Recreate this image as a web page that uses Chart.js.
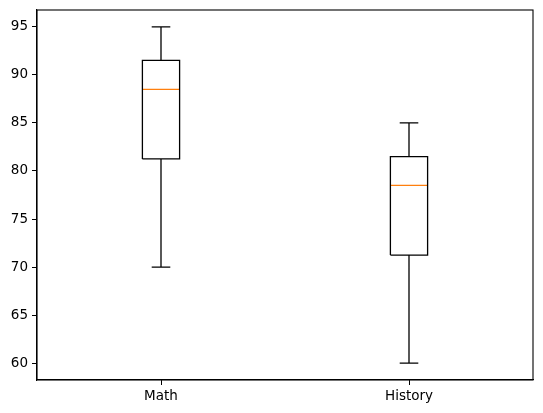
<!DOCTYPE html>
<html>
<head>
<meta charset="utf-8">
<script src="https://cdn.jsdelivr.net/npm/chart.js@4"></script>
<style>
  html, body { margin: 0; padding: 0; background: #fff; }
  #wrap { width: 543px; height: 413px; }
</style>
</head>
<body>
<div id="wrap"><canvas id="result" width="543" height="413"></canvas></div>
<script>
const subjects = ['Math', 'History'];
const lowWhisker = [70, 60];
const q1 = [81.25, 71.25];
const medians = [88.5, 78.5];
const q3 = [91.5, 81.5];
const highWhisker = [95, 85];
const yTicks = [60, 65, 70, 75, 80, 85, 90, 95];

const boxWidth = 0.15;
const capWidth = boxWidth / 2;

// build line segments from the stats, with null points to break the path
let boxPts = [], whiskerPts = [], medianPts = [];
subjects.forEach((s, i) => {
    let x = i + 1;
    let h = boxWidth / 2, c = capWidth / 2;
    boxPts.push(
        {x: x - h, y: q1[i]}, {x: x + h, y: q1[i]}, {x: x + h, y: q3[i]},
        {x: x - h, y: q3[i]}, {x: x - h, y: q1[i]}, {x: x, y: null}
    );
    whiskerPts.push(
        {x: x, y: q1[i]}, {x: x, y: lowWhisker[i]}, {x: x, y: null},
        {x: x, y: q3[i]}, {x: x, y: highWhisker[i]}, {x: x, y: null},
        {x: x - c, y: lowWhisker[i]}, {x: x + c, y: lowWhisker[i]}, {x: x, y: null},
        {x: x - c, y: highWhisker[i]}, {x: x + c, y: highWhisker[i]}, {x: x, y: null}
    );
    medianPts.push({x: x - h, y: medians[i]}, {x: x + h, y: medians[i]}, {x: x, y: null});
});

function seg(data, color) {
    return {
        data,
        borderColor: color,
        borderWidth: 1.3,
        pointRadius: 0,
        tension: 0,
        fill: false,
        spanGaps: false
    };
}

const frame = {
    id: 'frame',
    afterDraw(chart) {
        let a = chart.chartArea, ctx = chart.ctx;
        ctx.save();
        ctx.strokeStyle = '#000';
        ctx.lineWidth = 1.1;
        ctx.strokeRect(a.left, a.top, a.right - a.left, a.bottom - a.top);
        ctx.restore();
    }
};

const font = { family: 'DejaVu Sans', size: 13.5 };

new Chart(document.getElementById('result').getContext('2d'), {
    type: 'line',
    data: {
        datasets: [
            seg(whiskerPts, '#000'),
            seg(boxPts, '#000'),
            seg(medianPts, '#ff7f0e')
        ]
    },
    options: {
        responsive: false,
        animation: false,
        events: [],
        layout: { padding: { top: 10, right: 10, left: 0, bottom: 0 } },
        plugins: { legend: { display: false }, tooltip: { enabled: false } },
        scales: {
            x: {
                type: 'linear',
                min: 0.5,
                max: 2.5,
                afterBuildTicks: sc => { sc.ticks = subjects.map((s, i) => ({value: i + 1})); },
                afterFit: sc => { sc.height = 33; sc.paddingLeft = 0; sc.paddingRight = 0; },
                ticks: {
                    color: '#000',
                    font,
                    padding: 3,
                    maxRotation: 0,
                    callback: v => subjects[v - 1]
                },
                grid: { drawOnChartArea: false, drawTicks: true, tickLength: 5, color: '#000', lineWidth: 1 },
                border: { display: true, color: '#000', width: 1.1 }
            },
            y: {
                type: 'linear',
                min: 58.25,
                max: 96.75,
                afterBuildTicks: sc => { sc.ticks = yTicks.map(v => ({value: v})); },
                afterFit: sc => { sc.width = 37; sc.paddingTop = 0; sc.paddingBottom = 0; },
                ticks: { color: '#000', font, padding: 4 },
                grid: { drawOnChartArea: false, drawTicks: true, tickLength: 5, color: '#000', lineWidth: 1 },
                border: { display: true, color: '#000', width: 1.1 }
            }
        }
    },
    plugins: [frame]
});
</script>
</body>
</html>
